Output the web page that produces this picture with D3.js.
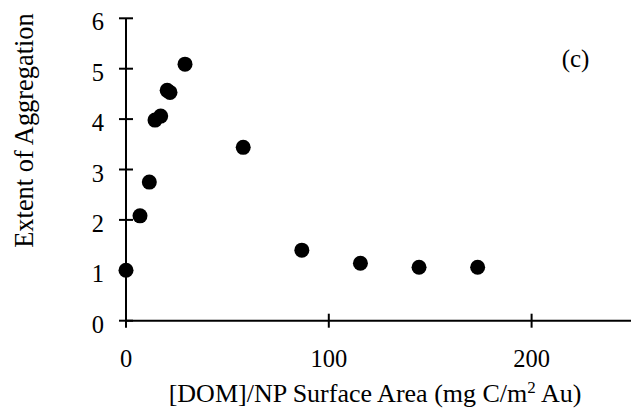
<!DOCTYPE html>
<meta charset="utf-8">
<style>
  body { margin: 0; background: #fff; }
  text { font-family: "Liberation Serif", "Times New Roman", serif; fill: #000; }
</style>
<body>
<div id="chart"></div>
<script src="https://d3js.org/d3.v7.min.js"></script>
<script>
// [DOM]/NP surface area vs extent of aggregation
const domArea = [0, 6.9, 11.5, 14.3, 17.1, 20.3, 21.7, 29.1, 57.8, 86.7, 115.6, 144.5, 173.4];
const aggregation = [1.0, 2.08, 2.75, 3.98, 4.06, 4.57, 4.53, 5.09, 3.44, 1.40, 1.14, 1.06, 1.06];
const xTicks = [0, 100, 200];
const yTicks = [0, 1, 2, 3, 4, 5, 6];

const width = 631, height = 409;
const svg = d3.select("#chart").append("svg")
    .attr("width", width)
    .attr("height", height);

const x = d3.scaleLinear().domain([0, 250]).range([126, 633]);
const y = d3.scaleLinear().domain([0, 6]).range([320.7, 18.3]);

// axes with ticks crossing the line
const xAxis = svg.append("g").attr("transform", "translate(0," + y(0) + ")");
xAxis.append("line")
    .attr("x1", x(0)).attr("x2", x(250))
    .attr("stroke", "#000").attr("stroke-width", 2);
xAxis.selectAll(".tick").data(xTicks).enter().append("line")
    .attr("x1", d => x(d)).attr("x2", d => x(d))
    .attr("y1", -7).attr("y2", 7)
    .attr("stroke", "#000").attr("stroke-width", 2);
xAxis.selectAll(".lbl").data(xTicks).enter().append("text")
    .attr("x", d => x(d)).attr("y", 46)
    .attr("text-anchor", "middle")
    .style("font-size", "24.5px")
    .text(d => d);

const yAxis = svg.append("g").attr("transform", "translate(" + x(0) + ",0)");
yAxis.append("line")
    .attr("y1", y(0)).attr("y2", y(6))
    .attr("stroke", "#000").attr("stroke-width", 2);
yAxis.selectAll(".tick").data(yTicks).enter().append("line")
    .attr("y1", d => y(d)).attr("y2", d => y(d))
    .attr("x1", -7).attr("x2", 7)
    .attr("stroke", "#000").attr("stroke-width", 2);
yAxis.selectAll(".lbl").data(yTicks).enter().append("text")
    .attr("x", -22).attr("y", d => y(d) + 12)
    .attr("text-anchor", "end")
    .style("font-size", "24.5px")
    .text(d => d);

// points
svg.append("g").selectAll("circle")
    .data(domArea.map((d, i) => [d, aggregation[i]]))
    .enter().append("circle")
    .attr("cx", d => x(d[0]))
    .attr("cy", d => y(d[1]))
    .attr("r", 7.5)
    .attr("fill", "#000");

// titles
const xt = svg.append("text")
    .attr("x", 375).attr("y", 402)
    .attr("text-anchor", "middle")
    .style("font-size", "26px");
xt.append("tspan").text("[DOM]/NP Surface Area (mg C/m");
xt.append("tspan").attr("dy", -9).style("font-size", "17px").text("2");
xt.append("tspan").attr("dy", 9).text(" Au)");

svg.append("text")
    .attr("transform", "translate(33,130.5) rotate(-90)")
    .attr("text-anchor", "middle")
    .style("font-size", "26.4px")
    .text("Extent of Aggregation");

svg.append("text")
    .attr("x", 575.5).attr("y", 67)
    .attr("text-anchor", "middle")
    .style("font-size", "25px")
    .text("(c)");
</script>
</body>
